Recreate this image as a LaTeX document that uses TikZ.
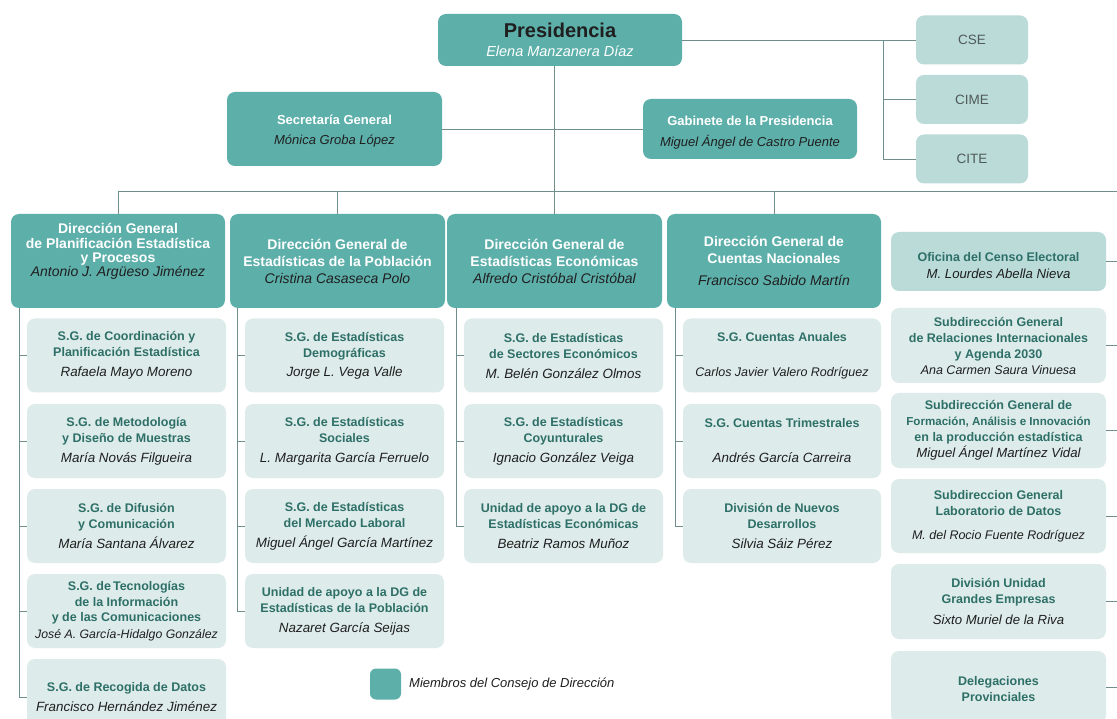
\documentclass[tikz,border=0pt]{standalone}
\usepackage{fontspec}
\setmainfont{Liberation Sans}
\definecolor{tealD}{HTML}{5DAFAA}
\definecolor{tealM}{HTML}{BADBD8}
\definecolor{tealL}{HTML}{DDECEA}
\definecolor{headC}{HTML}{2E6F68}
\definecolor{nameC}{HTML}{1F1F1F}
\definecolor{lineC}{HTML}{6F8E8B}
\definecolor{cseC}{HTML}{4F5A59}
\newcommand\hw[1]{{\bfseries\color{white}#1}}
\newcommand\htl[1]{{\fontsize{12.5}{16}\selectfont\bfseries\color{headC}#1}}
\newcommand\nm[1]{{\itshape\color{nameC}#1}}
\tikzset{
  box/.style={rectangle, rounded corners=8pt, align=center, inner sep=0pt, font=\fontsize{13}{16}\selectfont},
  dark/.style={box, fill=tealD},
  mid/.style={box, fill=tealM},
  light/.style={box, fill=tealL},
  dgbox/.style={dark, minimum height=94pt, font=\fontsize{14}{17}\selectfont},
  subbox/.style={light, minimum width=199pt, minimum height=74pt, font=\fontsize{13.4}{16}\selectfont},
  rbox/.style={minimum width=215pt, font=\fontsize{13.2}{16}\selectfont},
  cbox/.style={mid, minimum width=112pt, minimum height=49pt, font=\fontsize{13.5}{16}\selectfont, text=cseC},
  conn/.style={draw=lineC, line width=0.9pt},
}
\begin{document}
\begin{tikzpicture}[x=1pt,y=-1pt]
\useasboundingbox (0,0) rectangle (1117,719);
\clip (0,0) rectangle (1117,719);
\fill[white] (0,0) rectangle (1117,719);

% top level
\node[dark, minimum width=244pt, minimum height=52pt, font=\fontsize{14.5}{19}\selectfont] (pres) at (560,40)
  {{\fontsize{20}{22}\selectfont\bfseries\color{nameC}Presidencia}\\{\itshape\color{white}Elena Manzanera Díaz}};
\node[dark, minimum width=215pt, minimum height=74pt] (sec) at (334.5,129)
  {\mbox{}\\[-2pt]\hw{Secretaría General}\\[4pt]\nm{Mónica Groba López}};
\node[dark, minimum width=214pt, minimum height=60pt] (gab) at (750,129)
  {\mbox{}\\[0pt]\hw{Gabinete de la Presidencia}\\[5pt]\nm{Miguel Ángel de Castro Puente}};
\node[cbox] (cse) at (972,40) {CSE};
\node[cbox] (cime) at (972,99.5) {CIME};
\node[cbox] (cite) at (972,159) {CITE};

% direcciones generales
\node[dgbox, minimum width=214pt, font=\fontsize{14}{14.5}\selectfont] (dg1) at (118,261)
  {\hw{Dirección General}\\\hw{de Planificación Estadística}\\\hw{y Procesos}\\[-1pt]\nm{Antonio J. Argüeso Jiménez}\\[8pt]\mbox{}};
\node[dgbox, minimum width=215pt] (dg2) at (337.5,261)
  {\hw{Dirección General de}\\\hw{Estadísticas de la Población}\\\nm{Cristina Casaseca Polo}};
\node[dgbox, minimum width=215pt] (dg3) at (554.5,261)
  {\hw{Dirección General de}\\\hw{Estadísticas Económicas}\\\nm{Alfredo Cristóbal Cristóbal}};
\node[dgbox, minimum width=214pt] (dg4) at (774,261)
  {\hw{Dirección General de}\\\hw{Cuentas Nacionales}\\[5pt]\nm{Francisco Sabido Martín}};

% column 1
\node[subbox] (s11) at (126.5,355.5) {\htl{S.G. de Coordinación y}\\\htl{Planificación Estadística}\\[4pt]\nm{Rafaela Mayo Moreno}};
\node[subbox] (s12) at (126.5,441) {\htl{S.G. de Metodología}\\\htl{y Diseño de Muestras}\\[4pt]\nm{María Novás Filgueira}};
\node[subbox] (s13) at (126.5,526) {\htl{S.G. de Difusión}\\\htl{y Comunicación}\\[4pt]\nm{María Santana Álvarez}};
\node[subbox, font=\fontsize{13}{15.5}\selectfont] (s14) at (126.5,611) {\htl{S.G. de\,Tecnologías}\\\htl{de la Información}\\\htl{y de las Comunicaciones}\\[1pt]{\fontsize{12.3}{15.5}\selectfont\nm{José A. García-Hidalgo González}}};
\node[subbox, minimum height=76pt] (s15) at (126.5,697) {\htl{S.G. de Recogida de Datos}\\[4pt]\nm{Francisco Hernández Jiménez}};

% column 2
\node[subbox] (s21) at (344.5,355.5) {\htl{S.G. de Estadísticas}\\\htl{Demográficas}\\[3pt]\nm{Jorge L. Vega Valle}};
\node[subbox] (s22) at (344.5,441) {\htl{S.G. de Estadísticas}\\\htl{Sociales}\\[4pt]\nm{L. Margarita García Ferruelo}};
\node[subbox] (s23) at (344.5,526) {\htl{S.G. de Estadísticas}\\\htl{del Mercado Laboral}\\[4pt]\nm{Miguel Ángel García Martínez}};
\node[subbox] (s24) at (344.5,611) {\htl{Unidad de apoyo a la DG de}\\\htl{Estadísticas de la Población}\\[4pt]\nm{Nazaret García Seijas}};

% column 3
\node[subbox] (s31) at (563.5,355.5) {\htl{S.G. de Estadísticas}\\\htl{de Sectores Económicos}\\[4pt]\nm{M. Belén González Olmos}};
\node[subbox] (s32) at (563.5,441) {\htl{S.G. de Estadísticas}\\\htl{Coyunturales}\\[4pt]\nm{Ignacio González Veiga}};
\node[subbox] (s33) at (563.5,526) {\htl{Unidad de apoyo a la DG de}\\\htl{Estadísticas Económicas}\\[4pt]\nm{Beatriz Ramos Muñoz}};

% column 4
\node[subbox, minimum width=198pt] (s41) at (782,355.5) {\htl{S.G. Cuentas Anuales}\\\mbox{}\\[3pt]{\fontsize{12.5}{16}\selectfont\nm{Carlos Javier Valero Rodríguez}}};
\node[subbox, minimum width=198pt] (s42) at (782,441) {\htl{S.G. Cuentas Trimestrales}\\\mbox{}\\[3pt]\nm{Andrés García Carreira}};
\node[subbox, minimum width=198pt] (s43) at (782,526) {\htl{División de Nuevos}\\\htl{Desarrollos}\\[4pt]\nm{Silvia Sáiz Pérez}};

% right column
\node[mid, rbox, minimum height=59pt] (r1) at (998.5,261.5) {\mbox{}\\[2pt]\htl{Oficina del Censo Electoral}\\[1pt]\nm{M. Lourdes Abella Nieva}};
\node[light, rbox, minimum height=75pt] (r2) at (998.5,345.5) {\htl{Subdirección General}\\\htl{de Relaciones Internacionales}\\\htl{y Agenda 2030}\\{\fontsize{12.5}{16}\selectfont\nm{Ana Carmen Saura Vinuesa}}};
\node[light, rbox, minimum height=75pt] (r3) at (998.5,430.5) {\htl{Subdirección General de}\\{\fontsize{11.6}{16}\selectfont\bfseries\color{headC}Formación, Análisis e Innovación}\\\htl{en la producción estadística}\\\nm{Miguel Ángel Martínez Vidal}};
\node[light, rbox, minimum height=74pt] (r4) at (998.5,516) {\htl{Subdireccion General}\\\htl{Laboratorio de Datos}\\[8pt]{\fontsize{12.5}{16}\selectfont\nm{M. del Rocio Fuente Rodríguez}}};
\node[light, rbox, minimum height=75pt] (r5) at (998.5,601.5) {\htl{División Unidad}\\\htl{Grandes Empresas}\\[5pt]\nm{Sixto Muriel de la Riva}};
\node[light, rbox, minimum height=72pt] (r6) at (998.5,687) {\mbox{}\\[-2pt]\htl{Delegaciones}\\\htl{Provinciales}};

% legend
\node[dark, minimum width=31pt, minimum height=31pt, rounded corners=6pt] (leg) at (385.5,684) {};
\node[anchor=west, inner sep=0pt, font=\fontsize{13}{16}\selectfont] (legt) at (409,684) {\nm{Miembros del Consejo de Dirección}};

% connectors
\coordinate (busL) at (118,191);
\coordinate (busR) at (1117,191);
\coordinate (jn) at (883,40);
\draw[conn] (busL) -- (busR);
\draw[conn] (pres.south -| dg3.north) -- (dg3.north);
\draw[conn] (sec.east) -- (gab.west);
\foreach \d in {dg1,dg2,dg3,dg4} \draw[conn] (\d.north |- busL) -- (\d.north);
\draw[conn] (pres.east) -- (cse.west);
\draw[conn] (jn) |- (cime.west);
\draw[conn] (jn) |- (cite.west);

\coordinate (t1) at (19,308);
\coordinate (t2) at (237,308);
\coordinate (t3) at (456,308);
\coordinate (t4) at (675,308);
\draw[conn] (t1) |- (s15.west);
\foreach \s in {s11,s12,s13,s14} \draw[conn] (t1 |- \s.west) -- (\s.west);
\draw[conn] (t2) |- (s24.west);
\foreach \s in {s21,s22,s23} \draw[conn] (t2 |- \s.west) -- (\s.west);
\draw[conn] (t3) |- (s33.west);
\foreach \s in {s31,s32} \draw[conn] (t3 |- \s.west) -- (\s.west);
\draw[conn] (t4) |- (s43.west);
\foreach \s in {s41,s42} \draw[conn] (t4 |- \s.west) -- (\s.west);
\foreach \r in {r1,r2,r3,r4,r5,r6} \draw[conn] (\r.east) -- (\r.east -| busR);
\end{tikzpicture}
\end{document}
